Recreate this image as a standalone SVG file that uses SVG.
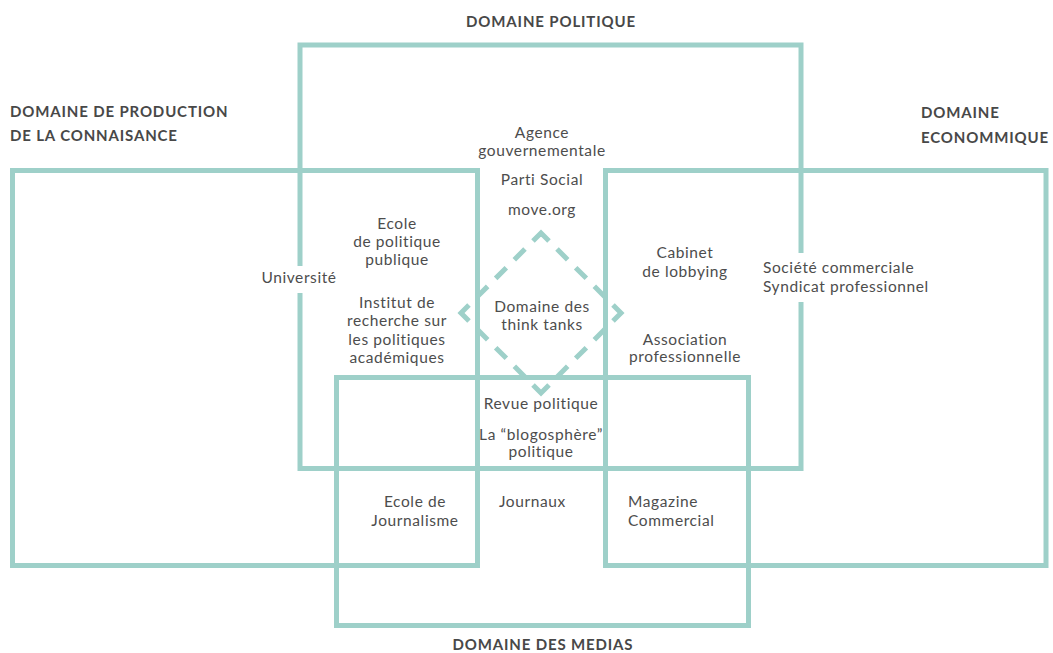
<svg xmlns="http://www.w3.org/2000/svg" width="1053" height="653" viewBox="0 0 1053 653">
<style>
.dom{fill:none;stroke:#9ed0c9;stroke-width:5}
.ttl{font-family:Lato,"Liberation Sans",sans-serif;font-weight:bold;font-size:15px;letter-spacing:0.85px;fill:#484848}
.lbl{font-family:Lato,"Liberation Sans",sans-serif;font-size:15.5px;letter-spacing:0.6px;fill:#4d4d4d}
.c{text-anchor:middle}
.gap{fill:#ffffff}
.tt{fill:none;stroke:#9ed0c9;stroke-width:5;stroke-dasharray:20 10 13.33 10 13.33 10 13.33 10;stroke-dashoffset:10;stroke-linejoin:miter}
</style>
<rect width="1053" height="653" fill="#ffffff"/>
<g id="domaine-politique">
<rect class="dom" x="300" y="45" width="501" height="423.5"/>
<text class="ttl c" x="551" y="27">DOMAINE POLITIQUE</text>
</g>
<g id="domaine-connaissance">
<rect class="dom" x="12.5" y="170.5" width="465" height="395"/>
<text class="ttl" x="10" y="117">DOMAINE DE PRODUCTION</text>
<text class="ttl" x="10" y="141">DE LA CONNAISANCE</text>
</g>
<g id="domaine-economique">
<rect class="dom" x="605.5" y="170.5" width="440.5" height="395"/>
<text class="ttl" x="921" y="118">DOMAINE</text>
<text class="ttl" x="921" y="143">ECONOMMIQUE</text>
</g>
<g id="domaine-medias">
<rect class="dom" x="336.5" y="377.5" width="412" height="248"/>
<text class="ttl c" x="543" y="650">DOMAINE DES MEDIAS</text>
</g>
<g id="connectors">
<path class="tt" pathLength="400" d="M541,233 L621,313 L541,393 L461,313 Z"/>
</g>
<g id="think-tanks">
<text class="lbl c" x="542" y="312">Domaine des</text>
<text class="lbl c" x="542" y="330">think tanks</text>
</g>
<g id="agence">
<text class="lbl c" x="542" y="138">Agence</text>
<text class="lbl c" x="542" y="156">gouvernementale</text>
</g>
<g id="parti"><text class="lbl c" x="542" y="185">Parti Social</text></g>
<g id="move"><text class="lbl c" x="542" y="215">move.org</text></g>
<g id="ecole-politique">
<text class="lbl c" x="397" y="229">Ecole</text>
<text class="lbl c" x="397" y="247">de politique</text>
<text class="lbl c" x="397" y="265">publique</text>
</g>
<g id="institut">
<text class="lbl c" x="397" y="308">Institut de</text>
<text class="lbl c" x="397" y="326">recherche sur</text>
<text class="lbl c" x="397" y="344.5">les politiques</text>
<text class="lbl c" x="397" y="363">académiques</text>
</g>
<g id="universite">
<rect class="gap" x="296" y="266" width="8" height="27"/>
<text class="lbl c" x="299" y="283">Université</text>
</g>
<g id="cabinet">
<text class="lbl c" x="685" y="258">Cabinet</text>
<text class="lbl c" x="685" y="277">de lobbying</text>
</g>
<g id="association">
<text class="lbl c" x="685" y="345">Association</text>
<text class="lbl c" x="685" y="362">professionnelle</text>
</g>
<g id="societe">
<rect class="gap" x="797" y="253" width="9" height="49"/>
<text class="lbl" x="763" y="273">Société commerciale</text>
<text class="lbl" x="763" y="292">Syndicat professionnel</text>
</g>
<g id="revue"><text class="lbl c" x="541" y="409">Revue politique</text></g>
<g id="blogosphere">
<text class="lbl c" x="541" y="440">La “blogosphère”</text>
<text class="lbl c" x="541" y="457">politique</text>
</g>
<g id="ecole-journalisme">
<text class="lbl c" x="415" y="507">Ecole de</text>
<text class="lbl c" x="415" y="526">Journalisme</text>
</g>
<g id="journaux"><text class="lbl" x="499" y="507">Journaux</text></g>
<g id="magazine">
<text class="lbl" x="628" y="507">Magazine</text>
<text class="lbl" x="628" y="526">Commercial</text>
</g>
</svg>
